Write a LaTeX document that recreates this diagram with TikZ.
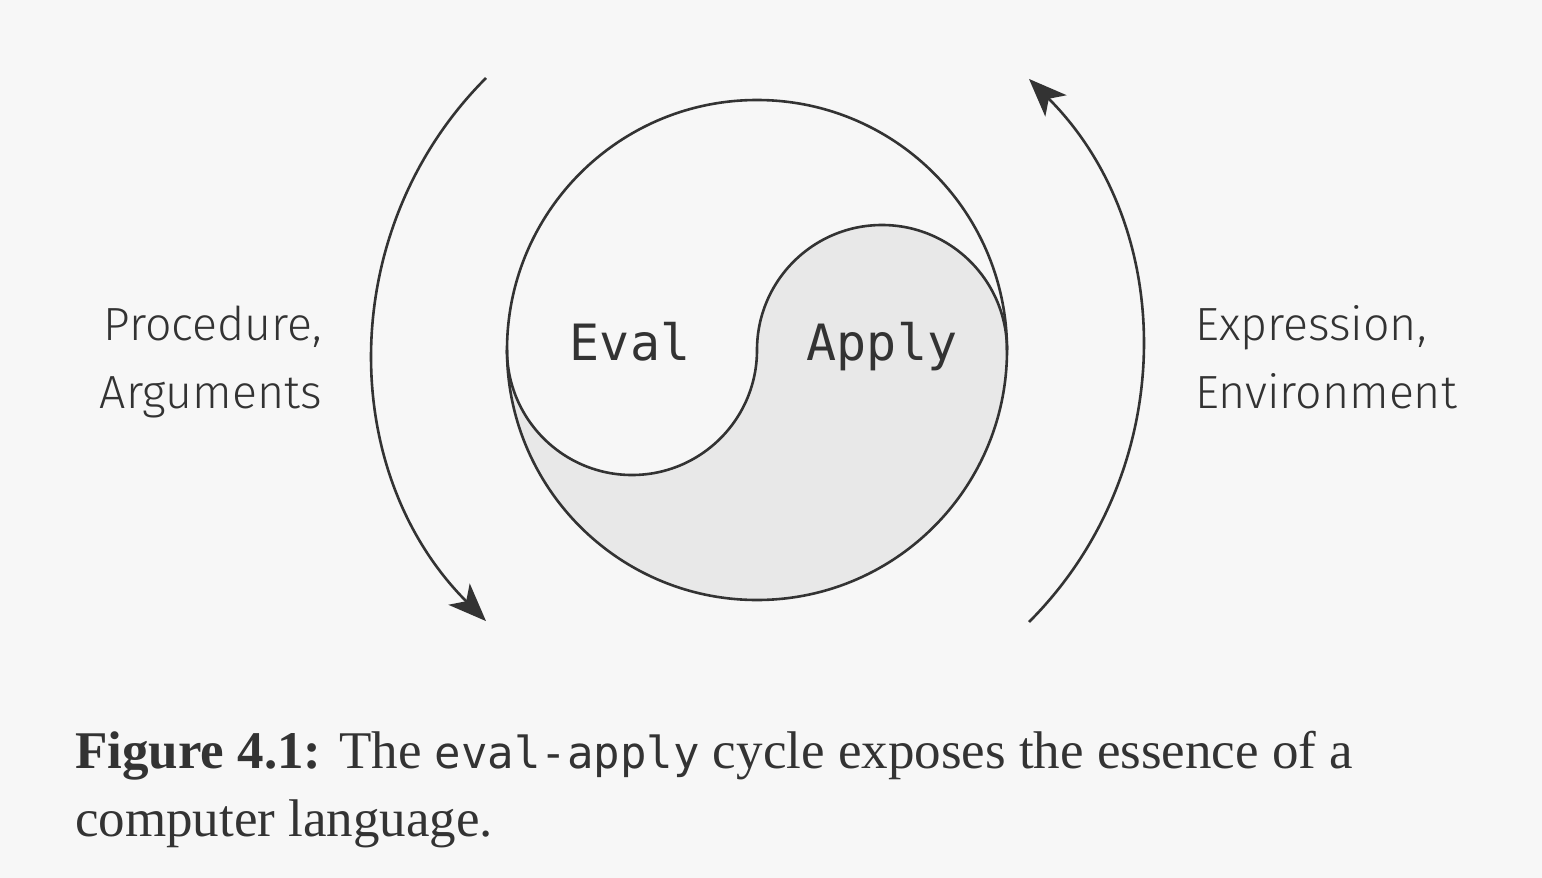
\documentclass[tikz,border=0pt]{standalone}
\usepackage{fontspec}
\newfontfamily\labfont{Fira Sans Light}
\newfontfamily\monof{DejaVu Sans Mono}
\setmainfont{Liberation Serif}
\usetikzlibrary{arrows.meta}
\definecolor{bg}{HTML}{F7F7F7}
\definecolor{ink}{HTML}{333333}
\definecolor{shadegray}{HTML}{E8E8E8}
\begin{document}
\begin{tikzpicture}[x=1pt,y=-1pt,
  line/.style={draw=ink,line width=2.6pt},
  cyc/.style={line,-{Stealth[length=38pt,width=30pt,inset=10pt]}},
  lab/.style={font=\labfont\fontsize{46.5}{70}\selectfont,text=ink,inner sep=0},
  mono/.style={font=\monof\fontsize{50}{60}\selectfont,text=ink,inner sep=0}]
\fill[bg] (0,0) rectangle (1542,878);
\useasboundingbox (0,0) rectangle (1542,878);
\coordinate (c) at (757,350);
\fill[shadegray] (507,350) arc[start angle=180,end angle=0,radius=250]
  arc[start angle=0,end angle=-180,radius=125]
  arc[start angle=0,end angle=180,radius=125] -- cycle;
\draw[line] (c) circle[radius=250];
\draw[line] (1007,350) arc[start angle=0,end angle=-180,radius=125]
  arc[start angle=0,end angle=180,radius=125];
\draw[cyc] (486,78) arc[start angle=225,end angle=135,radius=384];
\draw[cyc] (1029,622) arc[start angle=45,end angle=-45,radius=384];
\node[mono,anchor=base] (ev) at (630,360) {Eval};
\node[mono,anchor=base] (ap) at (882,360) {Apply};
\node[lab,anchor=base east] (p1) at (322,340) {Procedure,};
\node[lab,anchor=base east] (p2) at (322,408) {Arguments};
\node[lab,anchor=base west] (e1) at (1195,340) {Expression,};
\node[lab,anchor=base west] (e2) at (1195,408) {Environment};
\node[anchor=base west,inner sep=0,text=ink,font=\fontsize{53}{72}\selectfont] (cap1) at (75,768)
  {\textbf{Figure 4.1:} The {\monof\fontsize{44}{72}\selectfont eval-apply} cycle exposes the essence of a};
\node[anchor=base west,inner sep=0,text=ink,font=\fontsize{53}{72}\selectfont] (cap2) at (75,836)
  {computer language.};
\end{tikzpicture}
\end{document}
